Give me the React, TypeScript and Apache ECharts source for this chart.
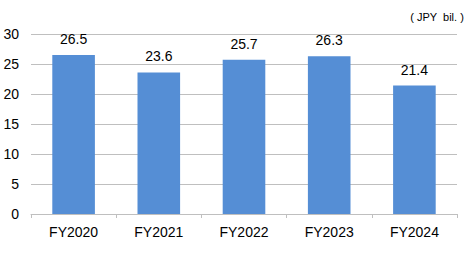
import React, { useEffect, useRef } from "react";
import * as echarts from "echarts";

const categories = ["FY2020", "FY2021", "FY2022", "FY2023", "FY2024"];
const values = [26.5, 23.6, 25.7, 26.3, 21.4];
const unitLabel = "( JPY  bil. )";

export default function App() {
  const ref = useRef<HTMLDivElement>(null);
  useEffect(() => {
    const chart = echarts.init(ref.current!, null, { renderer: "svg" });
    const font = "'Liberation Sans', Arial, sans-serif";
    chart.setOption({
      animation: false,
      backgroundColor: "#ffffff",
      grid: { left: 31, right: 15, top: 34, bottom: 40 },
      graphic: [
        {
          type: "text",
          right: 8,
          top: 11,
          style: { text: unitLabel, fontSize: 11, fontFamily: font, fill: "#000" },
        },
      ],
      xAxis: {
        type: "category",
        data: categories,
        axisLine: { lineStyle: { color: "#bfbfbf", width: 1 } },
        axisTick: { show: true, length: 4, lineStyle: { color: "#bfbfbf" } },
        axisLabel: { color: "#000", fontSize: 14, fontFamily: font, margin: 11 },
      },
      yAxis: {
        type: "value",
        min: 0,
        max: 30,
        interval: 5,
        axisLine: { show: false },
        axisTick: { show: false },
        splitLine: { lineStyle: { color: "#bfbfbf", width: 1 } },
        axisLabel: { color: "#000", fontSize: 14, fontFamily: font, margin: 12 },
      },
      series: [
        {
          type: "bar",
          data: values,
          barWidth: "50%",
          itemStyle: { color: "#558ED5" },
          label: {
            show: true,
            position: "top",
            distance: 9,
            color: "#000",
            fontSize: 14,
            fontFamily: font,
            formatter: (p: any) => p.value.toFixed(1),
          },
        },
      ],
    });
    return () => chart.dispose();
  }, []);
  return (
    <div
      ref={ref}
      style={{ position: "fixed", left: 0, top: 0, width: 472, height: 254 }}
    />
  );
}
